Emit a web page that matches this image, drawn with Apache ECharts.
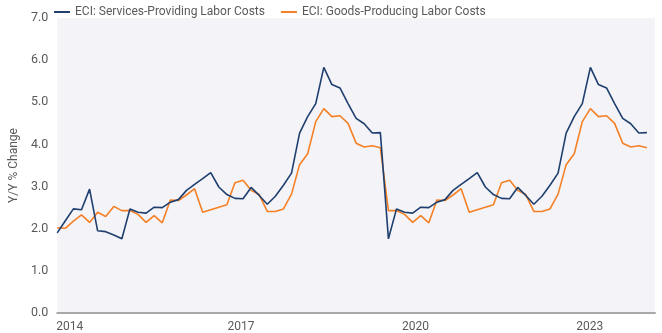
<!DOCTYPE html>
<html>
<head>
<meta charset="utf-8">
<script src="https://cdn.jsdelivr.net/npm/echarts@6/dist/echarts.min.js"></script>
<style>
html,body{margin:0;padding:0;background:#fff;}
#chart{width:662px;height:333px;}
</style>
</head>
<body>
<div id="chart"></div>
<script>
// Series values (Y/Y % change), one value per period
const services = [
  1.90, 2.19, 2.47, 2.45, 2.94, 1.95, 1.93, 1.85, 1.76, 2.47,
  2.39, 2.37, 2.51, 2.50, 2.63, 2.69, 2.91, 3.05, 3.19, 3.33,
  2.99, 2.81, 2.72, 2.71, 2.98, 2.79, 2.58, 2.77, 3.03, 3.32,
  4.27, 4.66, 4.97, 5.83, 5.42, 5.34, 4.97, 4.62, 4.49, 4.27,
  4.28, 1.76, 2.47, 2.39, 2.37, 2.51, 2.50, 2.63, 2.69, 2.91,
  3.05, 3.19, 3.33, 2.99, 2.81, 2.72, 2.71, 2.98, 2.79, 2.58,
  2.77, 3.03, 3.32, 4.27, 4.66, 4.97, 5.83, 5.42, 5.34, 4.97,
  4.62, 4.49, 4.27, 4.28
];
const goods = [
  2.02, 2.01, 2.18, 2.33, 2.15, 2.39, 2.29, 2.53, 2.43, 2.43,
  2.34, 2.15, 2.31, 2.14, 2.68, 2.67, 2.80, 2.95, 2.39, 2.45,
  2.51, 2.57, 3.09, 3.15, 2.91, 2.81, 2.41, 2.41, 2.47, 2.82,
  3.52, 3.78, 4.54, 4.85, 4.66, 4.68, 4.50, 4.03, 3.94, 3.97,
  3.92, 2.43, 2.43, 2.34, 2.15, 2.31, 2.14, 2.68, 2.67, 2.80,
  2.95, 2.39, 2.45, 2.51, 2.57, 3.09, 3.15, 2.91, 2.81, 2.41,
  2.41, 2.47, 2.82, 3.52, 3.78, 4.54, 4.85, 4.66, 4.68, 4.50,
  4.03, 3.94, 3.97, 3.92
];
const seriesNames = ['ECI: Services-Providing Labor Costs', 'ECI: Goods-Producing Labor Costs'];
const xTickYears = [2014, 2017, 2020, 2023];
const yTicks = [0, 1, 2, 3, 4, 5, 6, 7];

// time position of each period (evenly spaced periods)
const startYear = 2013.835;
const stepYears = 0.13905;
const toPairs = arr => arr.map((v, i) => [startYear + i * stepYears, v]);

const chart = echarts.init(document.getElementById('chart'), null, {renderer: 'canvas'});
const font = 'Roboto, "Noto Sans", sans-serif';
chart.setOption({
  animation: false,
  backgroundColor: '#ffffff',
  textStyle: {fontFamily: font},
  legend: {
    left: 49, top: 1,
    itemWidth: 16, itemHeight: 2, itemGap: 16,
    icon: 'rect',
    textStyle: {color: '#5a5a5a', fontSize: 12, fontFamily: font},
    data: seriesNames
  },
  grid: {
    left: 49, right: 7, top: 18, bottom: 18,
    show: true, backgroundColor: '#f3f3f8', borderWidth: 0,
    containLabel: false
  },
  xAxis: {
    type: 'value',
    min: startYear,
    max: startYear + services.length * stepYears,
    axisLine: {show: true, lineStyle: {color: '#a8a8a8', width: 2}},
    axisTick: {show: false},
    splitLine: {show: false},
    axisLabel: {
      customValues: xTickYears,
      color: '#5a5a5a', fontSize: 12, fontFamily: font, margin: 8,
      formatter: v => (Math.round(v) === xTickYears[0] ? '{first|' + Math.round(v) + '}' : String(Math.round(v))),
      rich: {first: {padding: [0, 0, 0, 6], color: '#5a5a5a', fontSize: 12, fontFamily: font}}
    }
  },
  yAxis: {
    type: 'value',
    min: yTicks[0], max: yTicks[yTicks.length - 1], interval: 1,
    name: 'Y/Y % Change',
    nameLocation: 'middle', nameGap: 37, nameRotate: 90,
    nameTextStyle: {color: '#5a5a5a', fontSize: 12, fontFamily: font},
    axisLine: {show: false}, axisTick: {show: false},
    splitLine: {show: false},
    axisLabel: {color: '#5a5a5a', fontSize: 12.5, fontFamily: font, margin: 9,
      formatter: v => v.toFixed(1)}
  },
  series: [
    {name: seriesNames[0], type: 'line', data: toPairs(services), showSymbol: false, symbol: 'none',
     lineStyle: {color: '#1f3f6e', width: 1.6}, itemStyle: {color: '#1f3f6e'}, z: 3},
    {name: seriesNames[1], type: 'line', data: toPairs(goods), showSymbol: false, symbol: 'none',
     lineStyle: {color: '#f58025', width: 1.6}, itemStyle: {color: '#f58025'}, z: 2}
  ]
});
</script>
</body>
</html>
